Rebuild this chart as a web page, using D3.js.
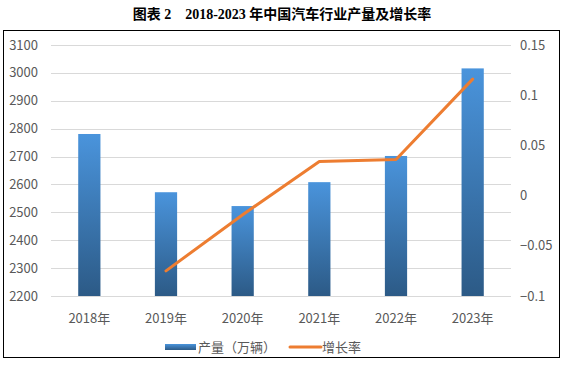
<!DOCTYPE html>
<html>
<head>
<meta charset="utf-8">
<script src="https://cdn.jsdelivr.net/npm/d3@7"></script>
<style>
  body { margin: 0; background: #fff; }
  text { font-family: "Noto Sans CJK SC", "Noto Sans", sans-serif; }
</style>
</head>
<body>
<div id="chartEl"></div>
<script>
const years = ['2018年', '2019年', '2020年', '2021年', '2022年', '2023年'];
const output = [2780.9, 2572.1, 2522.5, 2608.2, 2702.1, 3016.1];
const growth = [null, -0.075, -0.019, 0.034, 0.036, 0.116];
const leftTicks = [2200, 2300, 2400, 2500, 2600, 2700, 2800, 2900, 3000, 3100];
const rightTicks = [-0.1, -0.05, 0, 0.05, 0.1, 0.15];

const W = 564, H = 365;
const plot = {left: 51, right: 511, top: 45, bottom: 296};

const svg = d3.select('#chartEl').append('svg')
  .attr('width', W)
  .attr('height', H);

// title
svg.append('text')
  .attr('x', 282).attr('y', 19)
  .attr('text-anchor', 'middle')
  .attr('font-size', 14)
  .attr('font-weight', 'bold')
  .style('font-family', '"Liberation Serif", "Noto Sans CJK SC", serif')
  .attr('fill', '#000')
  .text('图表 2\u00a0\u00a0\u00a0\u00a02018-2023 年中国汽车行业产量及增长率');

// frame
svg.append('rect')
  .attr('x', 3.5).attr('y', 30.5)
  .attr('width', 556).attr('height', 327)
  .attr('fill', 'none')
  .attr('stroke', '#000')
  .attr('stroke-width', 1);

const x = d3.scaleBand()
  .domain(years)
  .range([plot.left, plot.right])
  .paddingInner(0.71)
  .paddingOuter(0.355);

const y = d3.scaleLinear()
  .domain([2200, 3100])
  .range([plot.bottom, plot.top]);

const y2 = d3.scaleLinear()
  .domain([-0.1, 0.15])
  .range([plot.bottom, plot.top]);

// gridlines
svg.append('g')
  .selectAll('line')
  .data(leftTicks)
  .enter().append('line')
  .attr('x1', plot.left).attr('x2', plot.right)
  .attr('y1', d => Math.round(y(d)) + 0.5)
  .attr('y2', d => Math.round(y(d)) + 0.5)
  .attr('stroke', '#d9d9d9')
  .attr('stroke-width', 1);

// left axis labels
svg.append('g')
  .selectAll('text')
  .data(leftTicks)
  .enter().append('text')
  .attr('x', 38)
  .attr('y', d => y(d) + 4.5)
  .attr('text-anchor', 'end')
  .attr('font-size', 13)
  .attr('fill', '#595959')
  .text(d => d);

// right axis labels
svg.append('g')
  .selectAll('text')
  .data(rightTicks)
  .enter().append('text')
  .attr('x', 520)
  .attr('y', d => y2(d) + 4.5)
  .attr('text-anchor', 'start')
  .attr('font-size', 13)
  .attr('fill', '#595959')
  .text(d => d3.format('~g')(d));

// bar gradient
const grad = svg.append('defs').append('linearGradient')
  .attr('id', 'barGrad')
  .attr('x1', 0).attr('y1', 0).attr('x2', 0).attr('y2', 1);
grad.append('stop').attr('offset', '0%').attr('stop-color', '#4a94dc');
grad.append('stop').attr('offset', '100%').attr('stop-color', '#2c5a86');

svg.append('g')
  .selectAll('rect')
  .data(output)
  .enter().append('rect')
  .attr('x', (d, i) => x(years[i]))
  .attr('y', d => y(d))
  .attr('width', x.bandwidth())
  .attr('height', d => plot.bottom - y(d))
  .attr('fill', 'url(#barGrad)');

// growth line
const line = d3.line()
  .defined(d => d != null)
  .x((d, i) => x(years[i]) + x.bandwidth() / 2)
  .y(d => y2(d));

svg.append('path')
  .datum(growth)
  .attr('d', line)
  .attr('fill', 'none')
  .attr('stroke', '#ed7d31')
  .attr('stroke-width', 3)
  .attr('stroke-linejoin', 'round')
  .attr('stroke-linecap', 'round');

// x labels
svg.append('g')
  .selectAll('text')
  .data(years)
  .enter().append('text')
  .attr('x', d => x(d) + x.bandwidth() / 2)
  .attr('y', 323)
  .attr('text-anchor', 'middle')
  .attr('font-size', 13)
  .attr('fill', '#595959')
  .text(d => d);

// legend
const legend = svg.append('g');
legend.append('rect')
  .attr('x', 165).attr('y', 344)
  .attr('width', 31).attr('height', 6)
  .attr('fill', 'url(#barGrad)');
legend.append('text')
  .attr('x', 198).attr('y', 352)
  .attr('font-size', 13)
  .attr('fill', '#595959')
  .text('产量（万辆）');
legend.append('line')
  .attr('x1', 290).attr('x2', 321)
  .attr('y1', 347).attr('y2', 347)
  .attr('stroke', '#ed7d31')
  .attr('stroke-width', 3)
  .attr('stroke-linecap', 'round');
legend.append('text')
  .attr('x', 322).attr('y', 352)
  .attr('font-size', 13)
  .attr('fill', '#595959')
  .text('增长率');
</script>
</body>
</html>
